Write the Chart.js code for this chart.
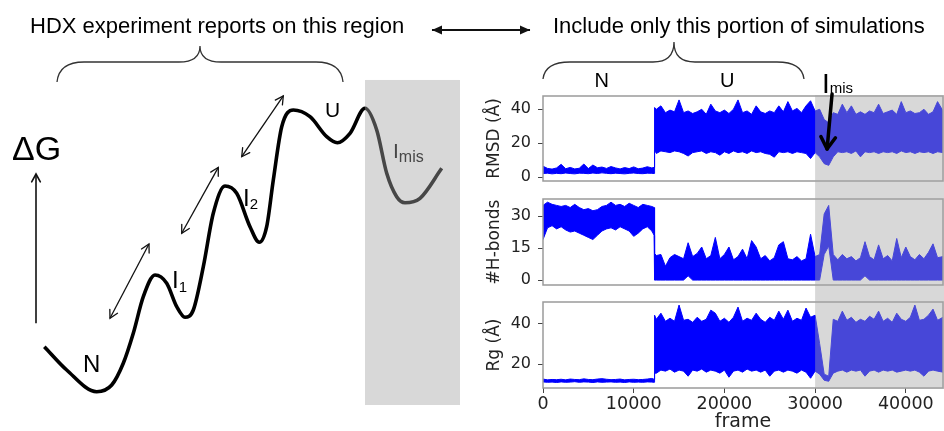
<!DOCTYPE html>
<html><head><meta charset="utf-8">
<script src="https://cdn.jsdelivr.net/npm/chart.js@4.4.1/dist/chart.umd.min.js"></script>
<style>
html,body{margin:0;padding:0;background:#fff;}
#wrap{position:relative;width:944px;height:431px;overflow:hidden;background:#fff;}
canvas{position:absolute;}
svg{position:absolute;left:0;top:0;}
svg text{font-family:"Liberation Sans",Arial,sans-serif;fill:#000;}
</style></head><body>
<div id="wrap">
<canvas id="schem" width="944" height="431" style="left:0;top:0;width:944px;height:431px"></canvas>
<canvas id="p1" width="474" height="130" style="left:470px;top:60px;width:474px;height:130px"></canvas>
<canvas id="p2" width="474" height="103" style="left:470px;top:190px;width:474px;height:103px"></canvas>
<canvas id="p3" width="474" height="140" style="left:470px;top:293px;width:474px;height:140px"></canvas>
<svg width="944" height="431" viewBox="0 0 944 431">
  <text x="30" y="33" font-size="22">HDX experiment reports on this region</text>
  <text x="553" y="33" font-size="22">Include only this portion of simulations</text>
  <text x="12" y="160" font-size="34">ΔG</text>
  <text x="83" y="372" font-size="24">N</text>
  <text x="172" y="288" font-size="24">I<tspan font-size="15" dy="4">1</tspan></text>
  <text x="243" y="206" font-size="24">I<tspan font-size="15" dy="3">2</tspan></text>
  <text x="325" y="117" font-size="21">U</text>
  <text x="393" y="158" font-size="21" style="fill:#474747">I<tspan font-size="16" dy="4">mis</tspan></text>
  <text x="594.5" y="87" font-size="20">N</text>
  <text x="720" y="87" font-size="20">U</text>
  <text x="822" y="93" font-size="28">I<tspan font-size="15">mis</tspan></text>
</svg>
</div>
<script>
// ---------------- schematic free-energy landscape (arbitrary units) ----------------
const curveX = [9.43,14.19,20.57,23.77,26.23,28.36,30.49,32.98,35.47,37.60,39.36,41.13,43.26,45.38,47.87,50.36,53.19,55.17,56.74,58.15,59.94,62.40,65.96,69.51,71.77,74.47,77.66,80.15,82.28,84.40,86.17,89.36,93.98];
const curveY = [19.56,14.15,9.12,10.67,15.71,22.67,31.16,36.19,34.27,28.84,26.38,28.07,38.12,50.51,56.84,55.15,47.40,43.78,47.40,58.24,70.60,74.48,72.92,68.28,66.89,69.07,74.87,69.84,59.79,54.36,52.97,53.99,60.95];
// arrows: x1, y1, x2, y2, heads
const arrowX1 = [23.40, 38.66, 51.43, 7.66, 91.91];
const arrowY1 = [26.15, 45.87, 63.64, 24.99, 93.04];
const arrowX2 = [31.70, 46.45, 60.28, 7.66, 112.77];
const arrowY2 = [43.39, 61.18, 77.73, 59.63, 93.04];
const arrowHeads = ['both','both','both','end','both-filled'];
// braces: left end, middle, right end, end level, horizontal level, tip level
const braceX1 = [12.13, 115.53];
const braceXm = [42.55, 143.40];
const braceX2 = [72.98, 171.06];
const braceYEnd = [80.97, 81.67];
const braceYH = [85.61, 85.61];
const braceYTip = [89.33, 90.26];
const shadeLeftX = [77.66, 97.87];
const shadeLeftY = [6.03, 81.44];

// ---------------- simulation traces (binned envelope: min / max per frame bin) ----------------
const frames = [0,500,1000,1500,2000,2500,3000,3500,4000,4500,5000,5500,6000,6500,7000,7500,8000,8500,9000,9500,10000,10500,11000,11500,12000,12250,
12300,12500,13000,13500,14000,14500,15000,15500,16000,16500,17000,17500,18000,18500,19000,19500,20000,20500,21000,21500,22000,22500,23000,23500,24000,24500,25000,25500,26000,26500,27000,27500,28000,28500,29000,29500,30000,
30500,31000,31500,32000,32500,33000,33500,34000,34500,35000,35500,36000,36500,37000,37500,38000,38500,39000,39500,40000,40500,41000,41500,42000,42500,43000,43500,44100];

const rmsdLow = [2.2,2.4,2.0,2.3,2.1,2.5,2.2,2.0,2.4,2.3,2.1,2.5,2.2,2.6,2.3,2.1,2.4,2.2,2.0,2.3,2.5,2.2,2.1,2.4,2.3,2.2,
16,14,15.5,15,14.5,15.5,15,14,12.5,14.5,15,15.5,14,15,14.5,13,15,14,15.5,14.5,15,14,15.5,14.5,15,14,13.5,11.8,15,14.5,15,14,15,14.5,14,11,14.5,
12,8,7,12,15,14.5,15,14,15.5,12,15,14.5,15,14,15,14.5,15,14,15.5,14.5,15,14,15,14.5,15,14,15,14.5];
const rmsdHigh = [6.5,5.2,4.8,5.5,7.6,5.0,5.8,4.9,5.3,7.8,5.1,7.2,5.6,6.0,5.2,6.3,5.5,4.9,5.7,5.1,6.1,5.0,5.4,6.2,5.5,5.8,
41,40,42,38,39.5,38.5,45.5,38,39,37.5,38.5,40,37,43,39,38,39.5,37.5,40,45.5,38,39,37,42,38.5,37.5,39,38,42,38.5,44.5,39,40.5,38,42,45,39,
40,34,32,38,37,43,38,42,37,38.5,37,39,38,43,37.5,38.5,39.5,37,44.5,38,39,37.5,38,40,37,38.5,44.5,39];

const hbLow = [19,24.5,25.5,24,25,23.5,22.5,23,22,21,20,19,21,23,24,24.5,23.5,25,24,23,20.5,22,24,25,23,21,
0,0,0,0,0,0,0,0,2,0,0,0,0,0,0,0,0,0,0,0,0,0,0,0,0,0,0,0,0,0,0,0,0,0,0,0,0,
0,12,16,0,0,0,0,0,0,0,2,0,0,0,0,0,0,0,0,0,0,0,0,0,0,0,0,0];
const hbHigh = [35,36.5,35.5,35,34.5,35,34,35.5,34,33,33.5,32.5,33,34.5,35,36.5,35,35.5,34.5,36,35,34,35.5,35,34.5,34,
12.5,11.5,12,6.5,10.5,12,11,10,17.5,11,12.5,15.5,10,11.5,20,10,12,15.5,9.5,11,14.5,10,18.5,15.5,10,11.5,9,10.5,16.5,18,10,9.5,11,9,10,21.5,11,
12,31,35,12,9.5,12,10,11,9,10.5,18,11,9.5,16.5,10,11.5,9,19.5,10.5,15.5,11,9.5,12,10,13,17,10.5,11];

const rgLow = [11.2,11.0,11.1,10.9,11.2,11.0,11.1,11.3,11.0,11.2,11.1,10.9,11.2,11.0,11.1,11.2,11.0,11.1,10.9,11.2,11.0,11.1,11.0,11.2,11.1,11.0,
15.5,15.5,17,16.5,17.5,16,17,16.5,14,17,16.5,17.5,16,17,16.5,15.5,17,13.5,16.5,17,16,17.5,16.5,17,16,17,14,16.5,17,16,17,16.5,15.5,17,16,13,16.5,
15,12,11.5,15.5,16.5,17,16,17,16.5,17,14,16.5,17,16,17,16.5,17,16,16.5,17,16.5,17,16,14,16.5,17,16.5,16];
const rgHigh = [12.6,12.2,12.4,12.3,12.5,12.2,12.6,12.4,12.3,12.7,12.4,12.3,12.6,12.8,12.5,12.3,12.4,12.6,12.2,12.4,12.5,12.3,12.4,12.6,12.9,12.5,
44,42,45,41,42.5,41,49,41.5,42,40.5,43,41,42,46.5,45,41,42.5,40.5,43,48,41,42.5,41.5,45,42,40.5,43,41.5,46,42,46.5,41,42.5,41.5,47.5,43,44,
30,15,14,42,41,46,41.5,43,40.5,42,41,43.5,42,46,41,42.5,40.5,45,42,41,43,49,41.5,42,44,47,41.5,43];

const xTicks = [0,10000,20000,30000,40000];
const rmsdTicks = [0,20,40];
const hbTicks = [0,15,30];
const rgTicks = [20,40];
const misStart = 30000;
// arrow pointing to the misfolded-state dip in RMSD: [frame, RMSD] from -> to
const misArrowFrom = [31870, 49];
const misArrowTo = [31320, 16.6];

// ---------------- helpers ----------------
const BLUE = '#0000ff';
const SHADE = 'rgba(164,164,164,0.43)';
Chart.defaults.font.family = '"DejaVu Sans", sans-serif';

function drawHead(ctx, x0, y0, x1, y1, len, half, filled){
  const ang = Math.atan2(y1 - y0, x1 - x0);
  const ax = x1 - len*Math.cos(ang - half), ay = y1 - len*Math.sin(ang - half);
  const bx = x1 - len*Math.cos(ang + half), by = y1 - len*Math.sin(ang + half);
  ctx.beginPath();
  if (filled){
    ctx.moveTo(x1,y1); ctx.lineTo(ax,ay); ctx.lineTo(bx,by); ctx.closePath(); ctx.fill();
  } else {
    ctx.moveTo(ax,ay); ctx.lineTo(x1,y1); ctx.lineTo(bx,by); ctx.stroke();
  }
}

const schemDecor = {
  id:'schemDecor',
  afterDatasetsDraw(chart){
    const {ctx, scales:{x, y}} = chart;
    ctx.save();
    chart.data.datasets.forEach((ds, i) => {
      if (!ds.heads) return;
      const m = chart.getDatasetMeta(i).data;
      const p0 = m[0], p1 = m[1];
      ctx.strokeStyle = ds.borderColor; ctx.fillStyle = ds.borderColor;
      ctx.lineWidth = ds.borderWidth; ctx.lineJoin = 'miter'; ctx.lineCap = 'round';
      const filled = ds.heads === 'both-filled';
      const len = filled ? 11 : 9, half = filled ? 0.42 : 0.5;
      drawHead(ctx, p0.x, p0.y, p1.x, p1.y, len, half, filled);
      if (ds.heads !== 'end') drawHead(ctx, p1.x, p1.y, p0.x, p0.y, len, half, filled);
    });
    ctx.strokeStyle = '#333'; ctx.lineWidth = 1.3; ctx.lineCap = 'butt';
    for (let i = 0; i < braceX1.length; i++){
      const X1 = x.getPixelForValue(braceX1[i]), Xm = x.getPixelForValue(braceXm[i]), X2 = x.getPixelForValue(braceX2[i]);
      const YE = y.getPixelForValue(braceYEnd[i]), YH = y.getPixelForValue(braceYH[i]), YT = y.getPixelForValue(braceYTip[i]);
      const r1 = 27, r2 = 21;
      ctx.beginPath();
      ctx.moveTo(X1, YE);
      ctx.quadraticCurveTo(X1 + 2, YH, X1 + r1, YH);
      ctx.lineTo(Xm - r2, YH);
      ctx.quadraticCurveTo(Xm, YH, Xm, YT);
      ctx.quadraticCurveTo(Xm, YH, Xm + r2, YH);
      ctx.lineTo(X2 - r1, YH);
      ctx.quadraticCurveTo(X2 - 2, YH, X2, YE);
      ctx.stroke();
    }
    const sx0 = x.getPixelForValue(shadeLeftX[0]), sx1 = x.getPixelForValue(shadeLeftX[1]);
    const sy0 = y.getPixelForValue(shadeLeftY[1]), sy1 = y.getPixelForValue(shadeLeftY[0]);
    ctx.fillStyle = SHADE;
    ctx.fillRect(sx0, sy0, sx1 - sx0, sy1 - sy0);
    ctx.restore();
  }
};

const arrowSets = arrowX1.map((v, i) => ({
  data: [{x: arrowX1[i], y: arrowY1[i]}, {x: arrowX2[i], y: arrowY2[i]}],
  showLine: true, borderColor: '#111', pointRadius: 0,
  borderWidth: arrowHeads[i] === 'both-filled' ? 2.2 : (arrowHeads[i] === 'end' ? 1.6 : 1.3),
  heads: arrowHeads[i]
}));

new Chart(document.getElementById('schem'), {
  type: 'scatter',
  data: { datasets: [
    { data: curveX.map((v, i) => ({x: v, y: curveY[i]})), showLine: true, borderColor: '#000',
      borderWidth: 3.6, pointRadius: 0, cubicInterpolationMode: 'monotone', borderCapStyle: 'butt' },
    ...arrowSets
  ]},
  options: {
    responsive: false, animation: false, devicePixelRatio: 1,
    layout: { padding: 0 },
    scales: { x: {type: 'linear', min: 0, max: 200.85, display: false}, y: {min: 0, max: 100, display: false} },
    plugins: { legend: {display: false}, tooltip: {enabled: false} }
  },
  plugins: [schemDecor]
});

const panelDecor = {
  id: 'panelDecor',
  afterDraw(chart, args, o){
    const {ctx, chartArea: a, scales: {x, y}} = chart;
    ctx.save();
    ctx.strokeStyle = '#9a9a9a'; ctx.lineWidth = 1.5;
    ctx.strokeRect(a.left, a.top, a.right - a.left, a.bottom - a.top);
    const x0 = x.getPixelForValue(misStart);
    const top = o.shadeTop === 'area' ? a.top - 1 : 0;
    const bot = o.shadeBottom === 'area' ? a.bottom + 1 : chart.height;
    ctx.fillStyle = SHADE;
    ctx.fillRect(x0, top, a.right + 1 - x0, bot - top);
    if (o.arrow){
      const fx = x.getPixelForValue(misArrowFrom[0]), fy = y.getPixelForValue(misArrowFrom[1]);
      const tx = x.getPixelForValue(misArrowTo[0]), ty = y.getPixelForValue(misArrowTo[1]);
      ctx.strokeStyle = '#000'; ctx.lineWidth = 3.5; ctx.lineCap = 'round'; ctx.lineJoin = 'round';
      ctx.beginPath(); ctx.moveTo(fx, fy); ctx.lineTo(tx, ty); ctx.stroke();
      drawHead(ctx, fx, fy, tx, ty, 14, 0.55, false);
    }
    ctx.restore();
  }
};

function pts(arr){ return frames.map((f, i) => ({x: f, y: arr[i]})); }

function makePanel(id, lo, hi, yMin, yMax, yTicks, yTitle, o){
  const xScale = {
    type: 'linear', min: 0, max: 44100, display: !!o.showX,
    afterBuildTicks: s => { s.ticks = xTicks.map(v => ({value: v})); },
    ticks: { font: {size: 17.5}, color: '#222', padding: 1, maxRotation: 0, autoSkip: false, callback: v => String(v) },
    grid: { display: true, drawOnChartArea: false, drawTicks: true, tickLength: 5, color: '#444' },
    border: { display: false },
    title: { display: true, text: 'frame', font: {size: 19}, color: '#222', padding: {top: 0, bottom: 0} }
  };
  if (o.showX) xScale.afterFit = s => { s.height = 45; s.paddingLeft = 0; s.paddingRight = 0; };
  return new Chart(document.getElementById(id), {
    type: 'line',
    data: { datasets: [
      { data: pts(lo), borderColor: BLUE, borderWidth: 1, pointRadius: 0, fill: false, tension: 0 },
      { data: pts(hi), borderColor: BLUE, borderWidth: 1, pointRadius: 0, fill: '-1', backgroundColor: BLUE, tension: 0 }
    ]},
    options: {
      responsive: false, animation: false, devicePixelRatio: 1,
      layout: { padding: {top: o.padTop, bottom: o.padBottom, left: 0, right: 1} },
      plugins: { legend: {display: false}, tooltip: {enabled: false},
        panelDecor: { shadeTop: o.shadeTop, shadeBottom: o.shadeBottom, arrow: o.arrow } },
      scales: {
        x: xScale,
        y: {
          min: yMin, max: yMax,
          afterBuildTicks: s => { s.ticks = yTicks.map(v => ({value: v})); },
          ticks: { font: {size: 16}, color: '#222', padding: 7, callback: v => String(v) },
          grid: { display: true, drawOnChartArea: false, drawTicks: true, tickLength: 5, color: '#444' },
          border: { display: false },
          title: { display: true, text: yTitle, font: {size: 17}, color: '#222', padding: {top: 14.8, bottom: 0} },
          afterFit: s => { s.width = 73; s.paddingTop = 0; s.paddingBottom = 0; }
        }
      }
    },
    plugins: [panelDecor]
  });
}

makePanel('p1', rmsdLow, rmsdHigh, -2.2, 47.8, rmsdTicks, 'RMSD (Å)',
  {padTop: 36, padBottom: 9, shadeTop: 'area', shadeBottom: 'canvas', arrow: true});
makePanel('p2', hbLow, hbHigh, -2.3, 38, hbTicks, '#H-bonds',
  {padTop: 9, padBottom: 8, shadeTop: 'canvas', shadeBottom: 'canvas'});
makePanel('p3', rgLow, rgHigh, 8.2, 50.5, rgTicks, 'Rg (Å)',
  {padTop: 9, padBottom: 0, shadeTop: 'canvas', shadeBottom: 'area', showX: true});
</script>
</body></html>
